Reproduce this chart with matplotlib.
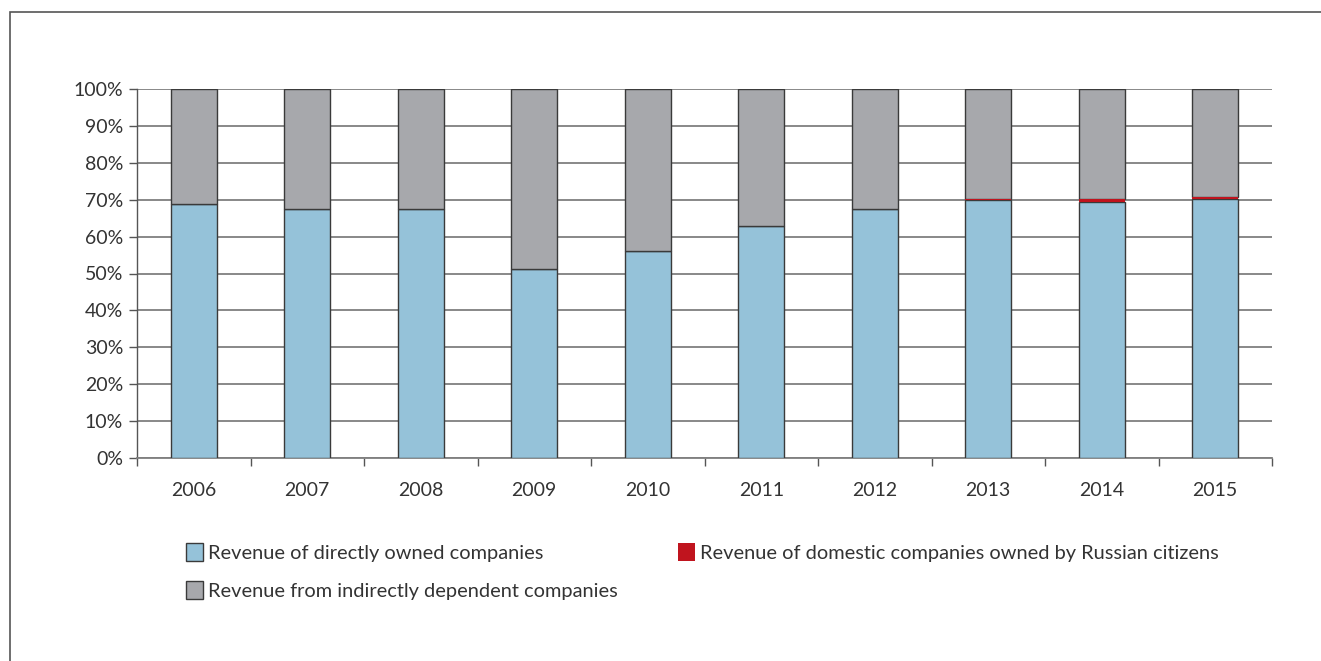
import numpy as np
import matplotlib
matplotlib.use('Agg')
import matplotlib.pyplot as plt
from matplotlib.patches import Rectangle

years = ['2006', '2007', '2008', '2009', '2010', '2011', '2012', '2013', '2014', '2015']
direct = [68.7, 67.5, 67.4, 51.2, 56.1, 62.9, 67.5, 69.8, 69.4, 70.1]
domestic = [0.0, 0.0, 0.1, 0.0, 0.0, 0.0, 0.0, 0.3, 0.7, 0.5]
labels = ['Revenue of directly owned companies',
          'Revenue of domestic companies owned by Russian citizens',
          'Revenue from indirectly dependent companies']

BLUE = '#95c2d9'
RED = '#c0141e'
GRAY = '#a7a8ac'
TEXT = '#333333'

plt.rcParams['font.family'] = ['Lato', 'DejaVu Sans']

direct = np.array(direct)
domestic = np.array(domestic)
indirect = 100 - direct - domestic
x = np.arange(len(years))

fig = plt.figure(figsize=(13.21, 6.61), dpi=100)
ax = fig.add_axes([137 / 1321, 1 - 458 / 661, 1135 / 1321, 369 / 661])

# outer frame (only left and top edges visible in the picture)
fig.patches.append(Rectangle((10 / 1321, -0.1), 1.2, 1 - 12 / 661 + 0.1,
                             transform=fig.transFigure, fill=False,
                             edgecolor='#555555', linewidth=1.2, zorder=0))

w = 0.405
ax.bar(x, direct, w, color=BLUE, edgecolor='#3a3a3a', linewidth=1.0, zorder=3, label=labels[0])
ax.bar(x, indirect, w, bottom=direct + domestic, color=GRAY, edgecolor='#3a3a3a',
       linewidth=1.0, zorder=3, label=labels[2])
ax.bar(x, domestic, w, bottom=direct, color=RED, linewidth=0,
       zorder=4, label=labels[1])

ax.set_xlim(-0.5, len(years) - 0.5)
ax.set_ylim(0, 100)
ax.set_yticks(np.arange(0, 101, 10))
ax.set_yticklabels([f'{v}%' for v in range(0, 101, 10)])
ax.set_xticks(x)
ax.set_xticklabels(years)
ax.set_xticks(np.arange(-0.5, len(years), 1), minor=True)
ax.tick_params(axis='x', which='major', length=0, pad=17, labelsize=14, labelcolor=TEXT)
ax.tick_params(axis='x', which='minor', length=6, width=1, color='#555555', direction='out')
ax.tick_params(axis='y', length=6, width=1, color='#555555', pad=4, labelsize=14, labelcolor=TEXT)
ax.grid(axis='y', color='#7f7f7f', linewidth=1.3, zorder=0)
for s in ['top', 'right']:
    ax.spines[s].set_visible(False)
ax.spines['left'].set_color('#555555')
ax.spines['bottom'].set_color('#7f7f7f')
ax.spines['left'].set_linewidth(1.0)
ax.spines['bottom'].set_linewidth(1.3)

h, l = ax.get_legend_handles_labels()
leg = fig.legend(h, l, ncol=2, loc='upper left', bbox_to_anchor=(186 / 1321, 1 - 543 / 661),
                 frameon=False, fontsize=14.4, handlelength=0.85, handleheight=1.0,
                 handletextpad=0.25, columnspacing=3.0, labelspacing=0.95, borderaxespad=0,
                 borderpad=0)
for t in leg.get_texts():
    t.set_color(TEXT)
for p in leg.get_patches():
    p.set_edgecolor('#3a3a3a')

fig.savefig('out.png', dpi=100)
